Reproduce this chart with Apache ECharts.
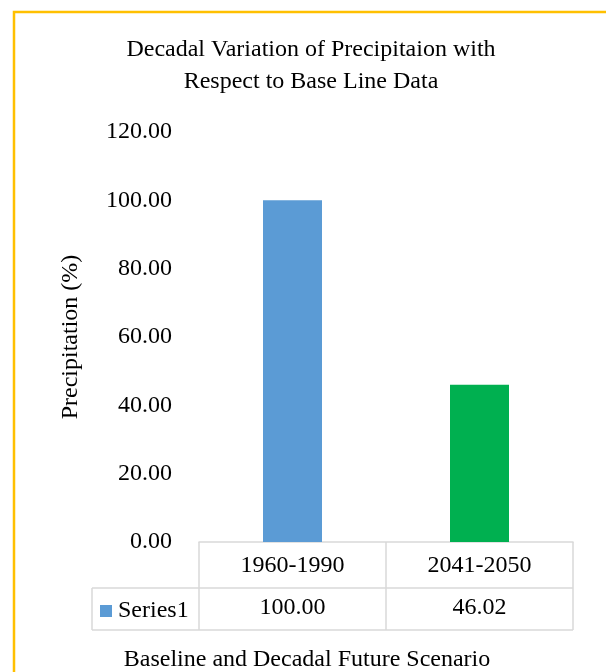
<!DOCTYPE html>
<html>
<head>
<meta charset="utf-8">
<script src="https://cdn.jsdelivr.net/npm/echarts@6/dist/echarts.min.js"></script>
<style>
html,body{margin:0;padding:0;background:#fff;}
#c{width:606px;height:672px;}
</style>
</head>
<body>
<div id="c"></div>
<script>
var categories = ['1960-1990', '2041-2050'];
var values = [100.00, 46.02];
var barColors = ['#5B9BD5', '#00B050'];
var seriesName = 'Series1';
var yTicks = {min: 0, max: 120, interval: 20};
var titleText = 'Decadal Variation of Precipitaion with\nRespect to Base Line Data';
var yName = 'Precipitation (%)';
var xName = 'Baseline and Decadal Future Scenario';

var FONT = '"Liberation Serif", "Times New Roman", serif';
var FS = 24;
var chart = echarts.init(document.getElementById('c'));
var G = {left: 199, right: 33, top: 132, bottom: 130};
var axisY = 672 - G.bottom;
var gridLine = '#D9D9D9';

chart.setOption({
  animation: false,
  textStyle: {fontFamily: FONT},
  title: [{
    text: titleText,
    left: 306, textAlign: 'center',
    top: 29,
    textStyle: {fontFamily: FONT, fontSize: FS, fontWeight: 'normal', color: '#000', lineHeight: 32}
  }, {
    text: xName,
    left: 302, textAlign: 'center',
    top: 643,
    textStyle: {fontFamily: FONT, fontSize: FS, fontWeight: 'normal', color: '#000'}
  }],
  legend: {
    data: [{name: seriesName, itemStyle: {color: barColors[0]}}],
    left: 95, top: 594,
    icon: 'rect', itemWidth: 12, itemHeight: 12, itemGap: 4,
    textStyle: {fontFamily: FONT, fontSize: FS, color: '#000', padding: [0,0,0,1]}
  },
  grid: G,
  xAxis: [{
    type: 'category',
    data: categories,
    position: 'bottom',
    axisLine: {show: true, lineStyle: {color: gridLine, width: 1.5}},
    axisTick: {show: true, length: 88, lineStyle: {color: gridLine, width: 1.5}},
    axisLabel: {margin: 12, fontFamily: FONT, fontSize: FS, color: '#000'},
    splitLine: {show: false}
  }, {
    type: 'category',
    data: categories,
    position: 'bottom',
    offset: 46,
    axisLine: {show: false},
    axisTick: {show: false},
    axisLabel: {
      margin: 8, fontFamily: FONT, fontSize: FS, color: '#000',
      formatter: function (v, i) { return values[i].toFixed(2); }
    }
  }],
  yAxis: {
    type: 'value',
    min: yTicks.min, max: yTicks.max, interval: yTicks.interval,
    axisLine: {show: false},
    axisTick: {show: false},
    splitLine: {show: false},
    axisLabel: {
      margin: 27, fontFamily: FONT, fontSize: FS, color: '#000',
      formatter: function (v) { return v.toFixed(2); }
    },
    name: yName,
    nameLocation: 'middle',
    nameGap: 116,
    nameTextStyle: {fontFamily: FONT, fontSize: FS, color: '#000'}
  },
  series: [{
    name: seriesName,
    type: 'bar',
    barWidth: 59,
    data: values.map(function (v, i) { return {value: v, itemStyle: {color: barColors[i]}}; })
  }],
  graphic: [
    {type: 'rect', shape: {x: 14, y: 12, width: 700, height: 700},
     style: {fill: 'none', stroke: '#FFC000', lineWidth: 2.5}, silent: true},
    {type: 'line', shape: {x1: 92, y1: axisY + 46, x2: 606 - G.right, y2: axisY + 46},
     style: {stroke: gridLine, lineWidth: 1.5}},
    {type: 'line', shape: {x1: 92, y1: axisY + 88, x2: 606 - G.right, y2: axisY + 88},
     style: {stroke: gridLine, lineWidth: 1.5}},
    {type: 'line', shape: {x1: 92, y1: axisY + 46, x2: 92, y2: axisY + 88},
     style: {stroke: gridLine, lineWidth: 1.5}}
  ]
});
</script>
</body>
</html>
